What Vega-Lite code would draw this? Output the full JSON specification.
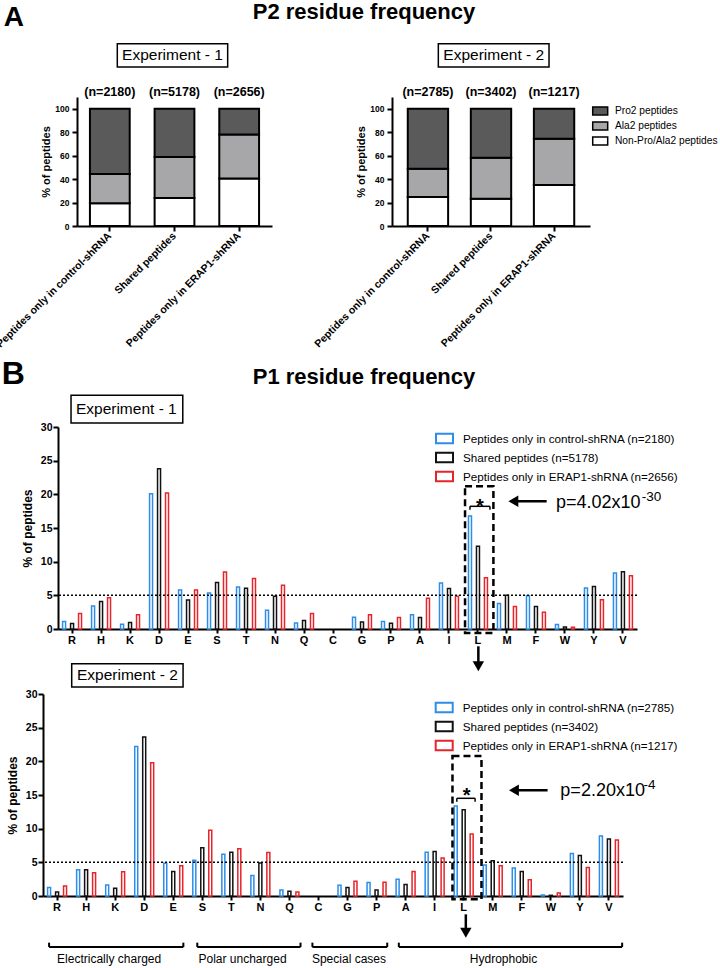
{
  "$schema": "https://vega.github.io/schema/vega-lite/v6.json",
  "autosize": {"type": "none"},
  "padding": {"left": 43, "top": 97, "right": 677, "bottom": 871},
  "spacing": 8,
  "config": {
    "font": "Liberation Sans",
    "view": {"stroke": null},
    "axis": {"domainColor": "black", "domainWidth": 2, "tickColor": "black", "tickWidth": 2, "labelColor": "black", "titleColor": "black", "labelFontWeight": "bold", "titleFontWeight": "bold", "grid": false, "labelFont": "Liberation Sans", "titleFont": "Liberation Sans", "labelOverlap": false},
    "legend": {"labelFont": "Liberation Sans", "labelColor": "black"}
  },
  "vconcat": [
    {
      "bounds": "flush",
      "spacing": 0,
      "resolve": {"scale": {"fill": "independent"}},
      "hconcat": [
        {"width": 34, "height": 1, "data": {"values": []}, "mark": "point", "encoding": {}},
        {
          "width": 195, "height": 129,
          "resolve": {"scale": {"x": "independent", "y": "independent"}},
          "layer": [
            {"layer": [
              {"data": {"values": [
                {"cond": "Peptides only in control-shRNA", "type": "Non-Pro/Ala2 peptides", "lvl": 1, "pct": 19.3},
                {"cond": "Peptides only in control-shRNA", "type": "Ala2 peptides", "lvl": 2, "pct": 25.0},
                {"cond": "Peptides only in control-shRNA", "type": "Pro2 peptides", "lvl": 3, "pct": 55.7},
                {"cond": "Shared peptides", "type": "Non-Pro/Ala2 peptides", "lvl": 1, "pct": 23.9},
                {"cond": "Shared peptides", "type": "Ala2 peptides", "lvl": 2, "pct": 34.9},
                {"cond": "Shared peptides", "type": "Pro2 peptides", "lvl": 3, "pct": 41.2},
                {"cond": "Peptides only in ERAP1-shRNA", "type": "Non-Pro/Ala2 peptides", "lvl": 1, "pct": 40.6},
                {"cond": "Peptides only in ERAP1-shRNA", "type": "Ala2 peptides", "lvl": 2, "pct": 37.5},
                {"cond": "Peptides only in ERAP1-shRNA", "type": "Pro2 peptides", "lvl": 3, "pct": 21.9}
              ]},
               "mark": {"type": "bar", "stroke": "black", "strokeWidth": 2},
               "encoding": {
                 "x": {"field": "cond", "type": "nominal", "scale": {"domain": ["Peptides only in control-shRNA", "Shared peptides", "Peptides only in ERAP1-shRNA"], "paddingInner": 0.385, "paddingOuter": 0.2},
                       "axis": {"title": null, "labelAngle": -45, "labelAlign": "right", "labelBaseline": "middle", "labelFontSize": 10.5, "tickSize": 5, "labelPadding": 3, "labelLimit": 300, "labelOverlap": false}},
                 "y": {"field": "pct", "type": "quantitative", "stack": "zero", "scale": {"domain": [0, 110], "nice": false},
                       "axis": {"title": "% of peptides", "values": [0, 20, 40, 60, 80, 100], "labelOverlap": false, "labelSeparation": -100, "labelFontSize": 8.5, "titleFontSize": 11, "tickSize": 5, "labelPadding": 3, "titlePadding": 3}},
                 "fill": {"field": "type", "type": "nominal", "scale": {"domain": ["Pro2 peptides", "Ala2 peptides", "Non-Pro/Ala2 peptides"], "range": ["#5a5a5a", "#a7a7aa", "#ffffff"]}, "legend": null},
                 "order": {"field": "lvl", "type": "quantitative"}
               }},
              {"data": {"values": [
                {"cond": "Peptides only in control-shRNA", "n": "(n=2180)"},
                {"cond": "Shared peptides", "n": "(n=5178)"},
                {"cond": "Peptides only in ERAP1-shRNA", "n": "(n=2656)"}
              ]},
               "mark": {"type": "text", "fontSize": 12.5, "fontWeight": "bold", "baseline": "alphabetic", "color": "black"},
               "encoding": {
                 "x": {"field": "cond", "type": "nominal"},
                 "y": {"datum": 110.9, "type": "quantitative", "scale": {"domain": [0, 110], "nice": false},
                       "axis": {"title": "% of peptides", "values": [0, 20, 40, 60, 80, 100], "labelOverlap": false, "labelSeparation": -100, "labelFontSize": 8.5, "titleFontSize": 11, "tickSize": 5, "labelPadding": 3, "titlePadding": 3}},
                 "text": {"field": "n"}
               }}
            ]},
            {"data": {"values": [{}]}, "layer": [
              {"mark": {"type": "text", "text": "A", "fontSize": 28, "fontWeight": "bold", "align": "center", "baseline": "alphabetic", "color": "black"},
               "encoding": {"x": {"datum": -0.972, "type": "quantitative", "scale": {"domain": [0, 3]}, "axis": null}, "y": {"datum": 170.5, "type": "quantitative", "scale": {"domain": [0, 110], "nice": false}, "axis": null}}},
              {"mark": {"type": "text", "text": "P2 residue frequency", "fontSize": 22, "fontWeight": "bold", "align": "center", "baseline": "alphabetic", "color": "black"},
               "encoding": {"x": {"datum": 4.415, "type": "quantitative", "scale": {"domain": [0, 3]}, "axis": null}, "y": {"datum": 176.3, "type": "quantitative", "scale": {"domain": [0, 110], "nice": false}, "axis": null}}},
              {"mark": {"type": "rect", "filled": false, "stroke": "black", "strokeWidth": 1.5},
               "encoding": {"x": {"datum": 0.62, "type": "quantitative", "scale": {"domain": [0, 3]}, "axis": null}, "x2": {"datum": 2.318}, "y": {"datum": 135.6, "type": "quantitative", "scale": {"domain": [0, 110], "nice": false}, "axis": null}, "y2": {"datum": 155.5}}},
              {"mark": {"type": "text", "text": "Experiment - 1", "fontSize": 15.5, "align": "center", "baseline": "middle", "color": "black"},
               "encoding": {"x": {"datum": 1.469, "type": "quantitative", "scale": {"domain": [0, 3]}, "axis": null}, "y": {"datum": 145.6, "type": "quantitative", "scale": {"domain": [0, 110], "nice": false}, "axis": null}}}
            ]}
          ]
        },
        {"width": 120, "height": 1, "data": {"values": []}, "mark": "point", "encoding": {}},
        {
          "width": 198, "height": 129,
          "resolve": {"scale": {"x": "independent", "y": "independent"}},
          "layer": [
            {"layer": [
              {"data": {"values": [
                {"cond": "Peptides only in control-shRNA", "type": "Non-Pro/Ala2 peptides", "lvl": 1, "pct": 24.7},
                {"cond": "Peptides only in control-shRNA", "type": "Ala2 peptides", "lvl": 2, "pct": 24.2},
                {"cond": "Peptides only in control-shRNA", "type": "Pro2 peptides", "lvl": 3, "pct": 51.1},
                {"cond": "Shared peptides", "type": "Non-Pro/Ala2 peptides", "lvl": 1, "pct": 23.3},
                {"cond": "Shared peptides", "type": "Ala2 peptides", "lvl": 2, "pct": 34.9},
                {"cond": "Shared peptides", "type": "Pro2 peptides", "lvl": 3, "pct": 41.8},
                {"cond": "Peptides only in ERAP1-shRNA", "type": "Non-Pro/Ala2 peptides", "lvl": 1, "pct": 35.0},
                {"cond": "Peptides only in ERAP1-shRNA", "type": "Ala2 peptides", "lvl": 2, "pct": 39.4},
                {"cond": "Peptides only in ERAP1-shRNA", "type": "Pro2 peptides", "lvl": 3, "pct": 25.6}
              ]},
               "mark": {"type": "bar", "stroke": "black", "strokeWidth": 2},
               "encoding": {
                 "x": {"field": "cond", "type": "nominal", "scale": {"domain": ["Peptides only in control-shRNA", "Shared peptides", "Peptides only in ERAP1-shRNA"], "paddingInner": 0.36, "paddingOuter": 0.25},
                       "axis": {"title": null, "labelAngle": -45, "labelAlign": "right", "labelBaseline": "middle", "labelFontSize": 10.5, "tickSize": 5, "labelPadding": 3, "labelLimit": 300, "labelOverlap": false}},
                 "y": {"field": "pct", "type": "quantitative", "stack": "zero", "scale": {"domain": [0, 110], "nice": false},
                       "axis": {"title": "% of peptides", "values": [0, 20, 40, 60, 80, 100], "labelOverlap": false, "labelSeparation": -100, "labelFontSize": 8.5, "titleFontSize": 11, "tickSize": 5, "labelPadding": 3, "titlePadding": 3}},
                 "fill": {"field": "type", "type": "nominal", "scale": {"domain": ["Pro2 peptides", "Ala2 peptides", "Non-Pro/Ala2 peptides"], "range": ["#5a5a5a", "#a7a7aa", "#ffffff"]},
                          "legend": {"orient": "none", "legendX": 203.1, "legendY": 8.8, "title": null, "symbolType": "M-1.83,-0.98H1.83V0.98H-1.83Z", "symbolSize": 67, "symbolStrokeColor": "black", "symbolStrokeWidth": 1.5, "labelFontSize": 10.2, "labelOffset": 9.7, "rowPadding": 0, "padding": 0, "labelLimit": 300}},
                 "order": {"field": "lvl", "type": "quantitative"}
               }},
              {"data": {"values": [
                {"cond": "Peptides only in control-shRNA", "n": "(n=2785)"},
                {"cond": "Shared peptides", "n": "(n=3402)"},
                {"cond": "Peptides only in ERAP1-shRNA", "n": "(n=1217)"}
              ]},
               "mark": {"type": "text", "fontSize": 12.5, "fontWeight": "bold", "baseline": "alphabetic", "color": "black"},
               "encoding": {
                 "x": {"field": "cond", "type": "nominal"},
                 "y": {"datum": 110.9, "type": "quantitative", "scale": {"domain": [0, 110], "nice": false},
                       "axis": {"title": "% of peptides", "values": [0, 20, 40, 60, 80, 100], "labelOverlap": false, "labelSeparation": -100, "labelFontSize": 8.5, "titleFontSize": 11, "tickSize": 5, "labelPadding": 3, "titlePadding": 3}},
                 "text": {"field": "n"}
               }}
            ]},
            {"data": {"values": [{}]}, "layer": [
              {"mark": {"type": "rect", "filled": false, "stroke": "black", "strokeWidth": 1.5},
               "encoding": {"x": {"datum": 0.702, "type": "quantitative", "scale": {"domain": [0, 3]}, "axis": null}, "x2": {"datum": 2.379}, "y": {"datum": 135.6, "type": "quantitative", "scale": {"domain": [0, 110], "nice": false}, "axis": null}, "y2": {"datum": 155.5}}},
              {"mark": {"type": "text", "text": "Experiment - 2", "fontSize": 15.5, "align": "center", "baseline": "middle", "color": "black"},
               "encoding": {"x": {"datum": 1.541, "type": "quantitative", "scale": {"domain": [0, 3]}, "axis": null}, "y": {"datum": 145.6, "type": "quantitative", "scale": {"domain": [0, 110], "nice": false}, "axis": null}}}
            ]}
          ]
        }
      ]
    },
    {
      "spacing": -10,
      "resolve": {"scale": {"stroke": "independent"}},
      "vconcat": [
        {
          "bounds": "flush",
          "spacing": 0,
          "hconcat": [
            {"width": 15, "height": 1, "data": {"values": []}, "mark": "point", "encoding": {}},
            {
              "width": 579, "height": 202,
              "resolve": {"scale": {"x": "independent", "y": "independent"}},
              "layer": [
                {"layer": [
                  {"data": {"values": [
                    {"r": "R", "s": "ctrl", "v": 1.1}, {"r": "R", "s": "shared", "v": 0.8}, {"r": "R", "s": "erap", "v": 2.3},
                    {"r": "H", "s": "ctrl", "v": 3.4}, {"r": "H", "s": "shared", "v": 4.1}, {"r": "H", "s": "erap", "v": 4.65},
                    {"r": "K", "s": "ctrl", "v": 0.7}, {"r": "K", "s": "shared", "v": 0.95}, {"r": "K", "s": "erap", "v": 2.1},
                    {"r": "D", "s": "ctrl", "v": 20.1}, {"r": "D", "s": "shared", "v": 23.8}, {"r": "D", "s": "erap", "v": 20.2},
                    {"r": "E", "s": "ctrl", "v": 5.8}, {"r": "E", "s": "shared", "v": 4.3}, {"r": "E", "s": "erap", "v": 5.8},
                    {"r": "S", "s": "ctrl", "v": 5.35}, {"r": "S", "s": "shared", "v": 6.9}, {"r": "S", "s": "erap", "v": 8.45},
                    {"r": "T", "s": "ctrl", "v": 6.25}, {"r": "T", "s": "shared", "v": 6.05}, {"r": "T", "s": "erap", "v": 7.5},
                    {"r": "N", "s": "ctrl", "v": 2.8}, {"r": "N", "s": "shared", "v": 4.85}, {"r": "N", "s": "erap", "v": 6.5},
                    {"r": "Q", "s": "ctrl", "v": 0.9}, {"r": "Q", "s": "shared", "v": 1.25}, {"r": "Q", "s": "erap", "v": 2.3},
                    {"r": "G", "s": "ctrl", "v": 1.75}, {"r": "G", "s": "shared", "v": 1.05}, {"r": "G", "s": "erap", "v": 2.1},
                    {"r": "P", "s": "ctrl", "v": 1.1}, {"r": "P", "s": "shared", "v": 0.85}, {"r": "P", "s": "erap", "v": 1.7},
                    {"r": "A", "s": "ctrl", "v": 2.1}, {"r": "A", "s": "shared", "v": 1.7}, {"r": "A", "s": "erap", "v": 4.55},
                    {"r": "I", "s": "ctrl", "v": 6.85}, {"r": "I", "s": "shared", "v": 6.0}, {"r": "I", "s": "erap", "v": 4.85},
                    {"r": "L", "s": "ctrl", "v": 16.8}, {"r": "L", "s": "shared", "v": 12.3}, {"r": "L", "s": "erap", "v": 7.6},
                    {"r": "M", "s": "ctrl", "v": 3.8}, {"r": "M", "s": "shared", "v": 5.0}, {"r": "M", "s": "erap", "v": 3.35},
                    {"r": "F", "s": "ctrl", "v": 4.95}, {"r": "F", "s": "shared", "v": 3.35}, {"r": "F", "s": "erap", "v": 2.5},
                    {"r": "W", "s": "ctrl", "v": 0.65}, {"r": "W", "s": "shared", "v": 0.3}, {"r": "W", "s": "erap", "v": 0.25},
                    {"r": "Y", "s": "ctrl", "v": 6.1}, {"r": "Y", "s": "shared", "v": 6.3}, {"r": "Y", "s": "erap", "v": 4.35},
                    {"r": "V", "s": "ctrl", "v": 8.3}, {"r": "V", "s": "shared", "v": 8.5}, {"r": "V", "s": "erap", "v": 7.9}
                  ]},
                   "mark": {"type": "bar", "fill": "white", "strokeWidth": 1.5},
                   "encoding": {
                     "x": {"field": "r", "type": "nominal", "scale": {"domain": ["R","H","K","D","E","S","T","N","Q","C","G","P","A","I","L","M","F","W","Y","V"], "paddingInner": 0.17, "paddingOuter": 0.07},
                           "axis": {"title": null, "labelAngle": 0, "labelFontSize": 11, "tickSize": 4, "labelPadding": 1.5, "labelOverlap": false}},
                     "xOffset": {"field": "s", "type": "nominal", "scale": {"domain": ["ctrl", "shared", "erap"], "paddingInner": 0.625, "paddingOuter": 0.32}},
                     "y": {"field": "v", "type": "quantitative", "scale": {"domain": [0, 30], "nice": false},
                           "axis": {"title": "% of peptides", "values": [0, 5, 10, 15, 20, 25, 30], "labelOverlap": false, "labelSeparation": -100, "labelFontSize": 10.5, "titleFontSize": 12, "tickSize": 5, "labelPadding": 1, "titlePadding": 6}},
                     "stroke": {"field": "s", "type": "nominal", "scale": {"domain": ["ctrl", "shared", "erap"], "range": ["#2d8de8", "#111111", "#e5242b"]},
                                "legend": {"orient": "none", "legendX": 394, "legendY": 4, "title": null, "symbolType": "M-1.308,-0.738H1.308V0.738H-1.308Z", "symbolSize": 169, "symbolStrokeWidth": 2, "symbolFillColor": "white", "labelFontSize": 11.7, "labelOffset": 11, "rowPadding": 0, "padding": 0, "labelLimit": 400,
                                           "labelExpr": "datum.label == 'ctrl' ? 'Peptides only in control-shRNA (n=2180)' : datum.label == 'shared' ? 'Shared peptides (n=5178)' : 'Peptides only in ERAP1-shRNA (n=2656)'"}}
                   }},
                  {"data": {"values": [{}]}, "mark": {"type": "rule", "strokeDash": [2, 2], "strokeWidth": 1.5, "color": "black"},
                   "encoding": {"y": {"datum": 5, "type": "quantitative", "scale": {"domain": [0, 30], "nice": false},
                                      "axis": {"title": "% of peptides", "values": [0, 5, 10, 15, 20, 25, 30], "labelOverlap": false, "labelSeparation": -100, "labelFontSize": 10.5, "titleFontSize": 12, "tickSize": 5, "labelPadding": 1, "titlePadding": 6}}}}
                ]},
                {"data": {"values": [{}]}, "layer": [
                  {"mark": {"type": "text", "text": "B", "fontSize": 32, "fontWeight": "bold", "align": "center", "baseline": "alphabetic", "color": "black"},
                   "encoding": {"x": {"datum": -1.545, "type": "quantitative", "scale": {"domain": [0, 20]}, "axis": null}, "y": {"datum": 36.34, "type": "quantitative", "scale": {"domain": [0, 30], "nice": false}, "axis": null}}},
                  {"mark": {"type": "text", "text": "P1 residue frequency", "fontSize": 22, "fontWeight": "bold", "align": "center", "baseline": "alphabetic", "color": "black"},
                   "encoding": {"x": {"datum": 10.57, "type": "quantitative", "scale": {"domain": [0, 20]}, "axis": null}, "y": {"datum": 36.34, "type": "quantitative", "scale": {"domain": [0, 30], "nice": false}, "axis": null}}},
                  {"mark": {"type": "rect", "filled": false, "stroke": "black", "strokeWidth": 1.5},
                   "encoding": {"x": {"datum": 0.45, "type": "quantitative", "scale": {"domain": [0, 20]}, "axis": null}, "x2": {"datum": 4.31}, "y": {"datum": 30.6, "type": "quantitative", "scale": {"domain": [0, 30], "nice": false}, "axis": null}, "y2": {"datum": 34.71}}},
                  {"mark": {"type": "text", "text": "Experiment - 1", "fontSize": 15.5, "align": "center", "baseline": "middle", "color": "black"},
                   "encoding": {"x": {"datum": 2.36, "type": "quantitative", "scale": {"domain": [0, 20]}, "axis": null}, "y": {"datum": 32.66, "type": "quantitative", "scale": {"domain": [0, 30], "nice": false}, "axis": null}}},
                  {"mark": {"type": "rect", "filled": false, "stroke": "black", "strokeWidth": 2.5, "strokeDash": [7, 4]},
                   "encoding": {"x": {"datum": 14.06, "type": "quantitative", "scale": {"domain": [0, 20]}, "axis": null}, "x2": {"datum": 15.04}, "y": {"datum": -0.59, "type": "quantitative", "scale": {"domain": [0, 30], "nice": false}, "axis": null}, "y2": {"datum": 21.19}}},
                  {"mark": {"type": "text", "text": "*", "fontSize": 20, "fontWeight": "bold", "align": "center", "baseline": "alphabetic", "color": "black"},
                   "encoding": {"x": {"datum": 14.57, "type": "quantitative", "scale": {"domain": [0, 20]}, "axis": null}, "y": {"datum": 17.26, "type": "quantitative", "scale": {"domain": [0, 30], "nice": false}, "axis": null}}},
                  {"mark": {"type": "rule", "strokeWidth": 1.5, "color": "black"},
                   "encoding": {"x": {"datum": 14.23, "type": "quantitative", "scale": {"domain": [0, 20]}, "axis": null}, "x2": {"datum": 14.92}, "y": {"datum": 18.22, "type": "quantitative", "scale": {"domain": [0, 30], "nice": false}, "axis": null}}},
                  {"mark": {"type": "rule", "strokeWidth": 1.5, "color": "black"},
                   "encoding": {"x": {"datum": 14.23, "type": "quantitative", "scale": {"domain": [0, 20]}, "axis": null}, "y": {"datum": 18.22, "type": "quantitative", "scale": {"domain": [0, 30], "nice": false}, "axis": null}, "y2": {"datum": 17.7}}},
                  {"mark": {"type": "rule", "strokeWidth": 1.5, "color": "black"},
                   "encoding": {"x": {"datum": 14.92, "type": "quantitative", "scale": {"domain": [0, 20]}, "axis": null}, "y": {"datum": 18.22, "type": "quantitative", "scale": {"domain": [0, 30], "nice": false}, "axis": null}, "y2": {"datum": 17.7}}},
                  {"mark": {"type": "rule", "strokeWidth": 2.5, "color": "black"},
                   "encoding": {"x": {"datum": 15.73, "type": "quantitative", "scale": {"domain": [0, 20]}, "axis": null}, "x2": {"datum": 16.88}, "y": {"datum": 18.97, "type": "quantitative", "scale": {"domain": [0, 30], "nice": false}, "axis": null}}},
                  {"mark": {"type": "point", "shape": "triangle-left", "filled": true, "color": "black", "size": 130, "opacity": 1},
                   "encoding": {"x": {"datum": 15.73, "type": "quantitative", "scale": {"domain": [0, 20]}, "axis": null}, "y": {"datum": 18.97, "type": "quantitative", "scale": {"domain": [0, 30], "nice": false}, "axis": null}}},
                  {"mark": {"type": "text", "text": "p=4.02x10", "fontSize": 18, "align": "left", "baseline": "alphabetic", "color": "black"},
                   "encoding": {"x": {"datum": 17.2, "type": "quantitative", "scale": {"domain": [0, 20]}, "axis": null}, "y": {"datum": 17.97, "type": "quantitative", "scale": {"domain": [0, 30], "nice": false}, "axis": null}}},
                  {"mark": {"type": "text", "text": "-30", "fontSize": 13.5, "align": "left", "baseline": "alphabetic", "color": "black"},
                   "encoding": {"x": {"datum": 20.16, "type": "quantitative", "scale": {"domain": [0, 20]}, "axis": null}, "y": {"datum": 18.97, "type": "quantitative", "scale": {"domain": [0, 30], "nice": false}, "axis": null}}},
                  {"mark": {"type": "rule", "strokeWidth": 2.5, "color": "black"},
                   "encoding": {"x": {"datum": 14.52, "type": "quantitative", "scale": {"domain": [0, 20]}, "axis": null}, "y": {"datum": -2.57, "type": "quantitative", "scale": {"domain": [0, 30], "nice": false}, "axis": null}, "y2": {"datum": -5.54}}},
                  {"mark": {"type": "point", "shape": "triangle-down", "filled": true, "color": "black", "size": 130, "opacity": 1},
                   "encoding": {"x": {"datum": 14.52, "type": "quantitative", "scale": {"domain": [0, 20]}, "axis": null}, "y": {"datum": -5.54, "type": "quantitative", "scale": {"domain": [0, 30], "nice": false}, "axis": null}}}
                ]}
              ]
            }
          ]
        },
        {
          "width": 580, "height": 202,
          "resolve": {"scale": {"x": "independent", "y": "independent"}},
          "layer": [
            {"layer": [
              {"data": {"values": [
                {"r": "R", "s": "ctrl", "v": 1.25}, {"r": "R", "s": "shared", "v": 0.6}, {"r": "R", "s": "erap", "v": 1.5},
                {"r": "H", "s": "ctrl", "v": 3.9}, {"r": "H", "s": "shared", "v": 3.9}, {"r": "H", "s": "erap", "v": 3.45},
                {"r": "K", "s": "ctrl", "v": 1.65}, {"r": "K", "s": "shared", "v": 1.15}, {"r": "K", "s": "erap", "v": 3.6},
                {"r": "D", "s": "ctrl", "v": 22.2}, {"r": "D", "s": "shared", "v": 23.6}, {"r": "D", "s": "erap", "v": 19.8},
                {"r": "E", "s": "ctrl", "v": 4.85}, {"r": "E", "s": "shared", "v": 3.65}, {"r": "E", "s": "erap", "v": 4.5},
                {"r": "S", "s": "ctrl", "v": 5.3}, {"r": "S", "s": "shared", "v": 7.15}, {"r": "S", "s": "erap", "v": 9.75},
                {"r": "T", "s": "ctrl", "v": 6.2}, {"r": "T", "s": "shared", "v": 6.5}, {"r": "T", "s": "erap", "v": 7.0},
                {"r": "N", "s": "ctrl", "v": 3.05}, {"r": "N", "s": "shared", "v": 4.9}, {"r": "N", "s": "erap", "v": 6.45},
                {"r": "Q", "s": "ctrl", "v": 0.9}, {"r": "Q", "s": "shared", "v": 0.7}, {"r": "Q", "s": "erap", "v": 0.6},
                {"r": "G", "s": "ctrl", "v": 1.6}, {"r": "G", "s": "shared", "v": 1.25}, {"r": "G", "s": "erap", "v": 2.2},
                {"r": "P", "s": "ctrl", "v": 2.0}, {"r": "P", "s": "shared", "v": 0.9}, {"r": "P", "s": "erap", "v": 2.05},
                {"r": "A", "s": "ctrl", "v": 2.5}, {"r": "A", "s": "shared", "v": 1.7}, {"r": "A", "s": "erap", "v": 3.65},
                {"r": "I", "s": "ctrl", "v": 6.5}, {"r": "I", "s": "shared", "v": 6.6}, {"r": "I", "s": "erap", "v": 5.65},
                {"r": "L", "s": "ctrl", "v": 13.35}, {"r": "L", "s": "shared", "v": 12.8}, {"r": "L", "s": "erap", "v": 9.2},
                {"r": "M", "s": "ctrl", "v": 4.6}, {"r": "M", "s": "shared", "v": 5.25}, {"r": "M", "s": "erap", "v": 4.5},
                {"r": "F", "s": "ctrl", "v": 4.15}, {"r": "F", "s": "shared", "v": 3.65}, {"r": "F", "s": "erap", "v": 2.4},
                {"r": "W", "s": "ctrl", "v": 0.15}, {"r": "W", "s": "shared", "v": 0.1}, {"r": "W", "s": "erap", "v": 0.45},
                {"r": "Y", "s": "ctrl", "v": 6.3}, {"r": "Y", "s": "shared", "v": 6.0}, {"r": "Y", "s": "erap", "v": 4.25},
                {"r": "V", "s": "ctrl", "v": 8.9}, {"r": "V", "s": "shared", "v": 8.45}, {"r": "V", "s": "erap", "v": 8.3}
              ]},
               "mark": {"type": "bar", "fill": "white", "strokeWidth": 1.5},
               "encoding": {
                 "x": {"field": "r", "type": "nominal", "scale": {"domain": ["R","H","K","D","E","S","T","N","Q","C","G","P","A","I","L","M","F","W","Y","V"], "paddingInner": 0.17, "paddingOuter": 0.07},
                       "axis": {"title": null, "labelAngle": 0, "labelFontSize": 11, "tickSize": 4, "labelPadding": 1.5, "labelOverlap": false}},
                 "xOffset": {"field": "s", "type": "nominal", "scale": {"domain": ["ctrl", "shared", "erap"], "paddingInner": 0.625, "paddingOuter": 0.32}},
                 "y": {"field": "v", "type": "quantitative", "scale": {"domain": [0, 30], "nice": false},
                       "axis": {"title": "% of peptides", "values": [0, 5, 10, 15, 20, 25, 30], "labelOverlap": false, "labelSeparation": -100, "labelFontSize": 10.5, "titleFontSize": 12, "tickSize": 5, "labelPadding": 1, "titlePadding": 6}},
                 "stroke": {"field": "s", "type": "nominal", "scale": {"domain": ["ctrl", "shared", "erap"], "range": ["#2d8de8", "#111111", "#e5242b"]},
                            "legend": {"orient": "none", "legendX": 393.7, "legendY": 6, "title": null, "symbolType": "M-1.308,-0.738H1.308V0.738H-1.308Z", "symbolSize": 169, "symbolStrokeWidth": 2, "symbolFillColor": "white", "labelFontSize": 11.7, "labelOffset": 11, "rowPadding": 0, "padding": 0, "labelLimit": 400,
                                       "labelExpr": "datum.label == 'ctrl' ? 'Peptides only in control-shRNA (n=2785)' : datum.label == 'shared' ? 'Shared peptides (n=3402)' : 'Peptides only in ERAP1-shRNA (n=1217)'"}}
               }},
              {"data": {"values": [{}]}, "mark": {"type": "rule", "strokeDash": [2, 2], "strokeWidth": 1.5, "color": "black"},
               "encoding": {"y": {"datum": 5, "type": "quantitative", "scale": {"domain": [0, 30], "nice": false},
                                  "axis": {"title": "% of peptides", "values": [0, 5, 10, 15, 20, 25, 30], "labelOverlap": false, "labelSeparation": -100, "labelFontSize": 10.5, "titleFontSize": 12, "tickSize": 5, "labelPadding": 1, "titlePadding": 6}}}}
            ]},
            {"data": {"values": [{}]}, "layer": [
              {"mark": {"type": "rect", "filled": false, "stroke": "black", "strokeWidth": 1.5},
               "encoding": {"x": {"datum": 0.99, "type": "quantitative", "scale": {"domain": [0, 20]}, "axis": null}, "x2": {"datum": 4.83}, "y": {"datum": 31.04, "type": "quantitative", "scale": {"domain": [0, 30], "nice": false}, "axis": null}, "y2": {"datum": 34.5}}},
              {"mark": {"type": "text", "text": "Experiment - 2", "fontSize": 15.5, "align": "center", "baseline": "middle", "color": "black"},
               "encoding": {"x": {"datum": 2.91, "type": "quantitative", "scale": {"domain": [0, 20]}, "axis": null}, "y": {"datum": 32.78, "type": "quantitative", "scale": {"domain": [0, 30], "nice": false}, "axis": null}}},
              {"mark": {"type": "rect", "filled": false, "stroke": "black", "strokeWidth": 2.5, "strokeDash": [7, 4]},
               "encoding": {"x": {"datum": 14.12, "type": "quantitative", "scale": {"domain": [0, 20]}, "axis": null}, "x2": {"datum": 15.12}, "y": {"datum": -0.49, "type": "quantitative", "scale": {"domain": [0, 30], "nice": false}, "axis": null}, "y2": {"datum": 20.79}}},
              {"mark": {"type": "text", "text": "*", "fontSize": 20, "fontWeight": "bold", "align": "center", "baseline": "alphabetic", "color": "black"},
               "encoding": {"x": {"datum": 14.61, "type": "quantitative", "scale": {"domain": [0, 20]}, "axis": null}, "y": {"datum": 13.89, "type": "quantitative", "scale": {"domain": [0, 30], "nice": false}, "axis": null}}},
              {"mark": {"type": "rule", "strokeWidth": 1.5, "color": "black"},
               "encoding": {"x": {"datum": 14.27, "type": "quantitative", "scale": {"domain": [0, 20]}, "axis": null}, "x2": {"datum": 14.9}, "y": {"datum": 14.51, "type": "quantitative", "scale": {"domain": [0, 30], "nice": false}, "axis": null}}},
              {"mark": {"type": "rule", "strokeWidth": 1.5, "color": "black"},
               "encoding": {"x": {"datum": 14.27, "type": "quantitative", "scale": {"domain": [0, 20]}, "axis": null}, "y": {"datum": 14.51, "type": "quantitative", "scale": {"domain": [0, 30], "nice": false}, "axis": null}, "y2": {"datum": 14.0}}},
              {"mark": {"type": "rule", "strokeWidth": 1.5, "color": "black"},
               "encoding": {"x": {"datum": 14.9, "type": "quantitative", "scale": {"domain": [0, 20]}, "axis": null}, "y": {"datum": 14.51, "type": "quantitative", "scale": {"domain": [0, 30], "nice": false}, "axis": null}, "y2": {"datum": 14.0}}},
              {"mark": {"type": "rule", "strokeWidth": 2.5, "color": "black"},
               "encoding": {"x": {"datum": 16.24, "type": "quantitative", "scale": {"domain": [0, 20]}, "axis": null}, "x2": {"datum": 17.4}, "y": {"datum": 15.7, "type": "quantitative", "scale": {"domain": [0, 30], "nice": false}, "axis": null}}},
              {"mark": {"type": "point", "shape": "triangle-left", "filled": true, "color": "black", "size": 130, "opacity": 1},
               "encoding": {"x": {"datum": 16.24, "type": "quantitative", "scale": {"domain": [0, 20]}, "axis": null}, "y": {"datum": 15.7, "type": "quantitative", "scale": {"domain": [0, 30], "nice": false}, "axis": null}}},
              {"mark": {"type": "text", "text": "p=2.20x10", "fontSize": 18, "align": "left", "baseline": "alphabetic", "color": "black"},
               "encoding": {"x": {"datum": 17.84, "type": "quantitative", "scale": {"domain": [0, 20]}, "axis": null}, "y": {"datum": 14.85, "type": "quantitative", "scale": {"domain": [0, 30], "nice": false}, "axis": null}}},
              {"mark": {"type": "text", "text": "-4", "fontSize": 13.5, "align": "left", "baseline": "alphabetic", "color": "black"},
               "encoding": {"x": {"datum": 20.71, "type": "quantitative", "scale": {"domain": [0, 20]}, "axis": null}, "y": {"datum": 15.85, "type": "quantitative", "scale": {"domain": [0, 30], "nice": false}, "axis": null}}},
              {"mark": {"type": "rule", "strokeWidth": 2.5, "color": "black"},
               "encoding": {"x": {"datum": 14.58, "type": "quantitative", "scale": {"domain": [0, 20]}, "axis": null}, "y": {"datum": -2.72, "type": "quantitative", "scale": {"domain": [0, 30], "nice": false}, "axis": null}, "y2": {"datum": -5.45}}},
              {"mark": {"type": "point", "shape": "triangle-down", "filled": true, "color": "black", "size": 130, "opacity": 1},
               "encoding": {"x": {"datum": 14.58, "type": "quantitative", "scale": {"domain": [0, 20]}, "axis": null}, "y": {"datum": -5.45, "type": "quantitative", "scale": {"domain": [0, 30], "nice": false}, "axis": null}}},
              {"mark": {"type": "rule", "strokeWidth": 2, "color": "black"},
               "encoding": {"x": {"datum": 0.21, "type": "quantitative", "scale": {"domain": [0, 20]}, "axis": null}, "x2": {"datum": 4.84}, "y": {"datum": -7.57, "type": "quantitative", "scale": {"domain": [0, 30], "nice": false}, "axis": null}}},
              {"mark": {"type": "rule", "strokeWidth": 2, "color": "black"},
               "encoding": {"x": {"datum": 0.21, "type": "quantitative", "scale": {"domain": [0, 20]}, "axis": null}, "y": {"datum": -7.57, "type": "quantitative", "scale": {"domain": [0, 30], "nice": false}, "axis": null}, "y2": {"datum": -6.93}}},
              {"mark": {"type": "rule", "strokeWidth": 2, "color": "black"},
               "encoding": {"x": {"datum": 4.84, "type": "quantitative", "scale": {"domain": [0, 20]}, "axis": null}, "y": {"datum": -7.57, "type": "quantitative", "scale": {"domain": [0, 30], "nice": false}, "axis": null}, "y2": {"datum": -6.93}}},
              {"mark": {"type": "rule", "strokeWidth": 2, "color": "black"},
               "encoding": {"x": {"datum": 5.32, "type": "quantitative", "scale": {"domain": [0, 20]}, "axis": null}, "x2": {"datum": 8.88}, "y": {"datum": -7.57, "type": "quantitative", "scale": {"domain": [0, 30], "nice": false}, "axis": null}}},
              {"mark": {"type": "rule", "strokeWidth": 2, "color": "black"},
               "encoding": {"x": {"datum": 5.32, "type": "quantitative", "scale": {"domain": [0, 20]}, "axis": null}, "y": {"datum": -7.57, "type": "quantitative", "scale": {"domain": [0, 30], "nice": false}, "axis": null}, "y2": {"datum": -6.93}}},
              {"mark": {"type": "rule", "strokeWidth": 2, "color": "black"},
               "encoding": {"x": {"datum": 8.88, "type": "quantitative", "scale": {"domain": [0, 20]}, "axis": null}, "y": {"datum": -7.57, "type": "quantitative", "scale": {"domain": [0, 30], "nice": false}, "axis": null}, "y2": {"datum": -6.93}}},
              {"mark": {"type": "rule", "strokeWidth": 2, "color": "black"},
               "encoding": {"x": {"datum": 9.29, "type": "quantitative", "scale": {"domain": [0, 20]}, "axis": null}, "x2": {"datum": 11.87}, "y": {"datum": -7.57, "type": "quantitative", "scale": {"domain": [0, 30], "nice": false}, "axis": null}}},
              {"mark": {"type": "rule", "strokeWidth": 2, "color": "black"},
               "encoding": {"x": {"datum": 9.29, "type": "quantitative", "scale": {"domain": [0, 20]}, "axis": null}, "y": {"datum": -7.57, "type": "quantitative", "scale": {"domain": [0, 30], "nice": false}, "axis": null}, "y2": {"datum": -6.93}}},
              {"mark": {"type": "rule", "strokeWidth": 2, "color": "black"},
               "encoding": {"x": {"datum": 11.87, "type": "quantitative", "scale": {"domain": [0, 20]}, "axis": null}, "y": {"datum": -7.57, "type": "quantitative", "scale": {"domain": [0, 30], "nice": false}, "axis": null}, "y2": {"datum": -6.93}}},
              {"mark": {"type": "rule", "strokeWidth": 2, "color": "black"},
               "encoding": {"x": {"datum": 12.27, "type": "quantitative", "scale": {"domain": [0, 20]}, "axis": null}, "x2": {"datum": 19.97}, "y": {"datum": -7.57, "type": "quantitative", "scale": {"domain": [0, 30], "nice": false}, "axis": null}}},
              {"mark": {"type": "rule", "strokeWidth": 2, "color": "black"},
               "encoding": {"x": {"datum": 12.27, "type": "quantitative", "scale": {"domain": [0, 20]}, "axis": null}, "y": {"datum": -7.57, "type": "quantitative", "scale": {"domain": [0, 30], "nice": false}, "axis": null}, "y2": {"datum": -6.93}}},
              {"mark": {"type": "rule", "strokeWidth": 2, "color": "black"},
               "encoding": {"x": {"datum": 19.97, "type": "quantitative", "scale": {"domain": [0, 20]}, "axis": null}, "y": {"datum": -7.57, "type": "quantitative", "scale": {"domain": [0, 30], "nice": false}, "axis": null}, "y2": {"datum": -6.93}}},
              {"mark": {"type": "text", "text": "Electrically charged", "fontSize": 12, "align": "center", "baseline": "alphabetic", "color": "black"},
               "encoding": {"x": {"datum": 2.28, "type": "quantitative", "scale": {"domain": [0, 20]}, "axis": null}, "y": {"datum": -10.0, "type": "quantitative", "scale": {"domain": [0, 30], "nice": false}, "axis": null}}},
              {"mark": {"type": "text", "text": "Polar uncharged", "fontSize": 12, "align": "center", "baseline": "alphabetic", "color": "black"},
               "encoding": {"x": {"datum": 6.88, "type": "quantitative", "scale": {"domain": [0, 20]}, "axis": null}, "y": {"datum": -10.0, "type": "quantitative", "scale": {"domain": [0, 30], "nice": false}, "axis": null}}},
              {"mark": {"type": "text", "text": "Special cases", "fontSize": 12, "align": "center", "baseline": "alphabetic", "color": "black"},
               "encoding": {"x": {"datum": 10.55, "type": "quantitative", "scale": {"domain": [0, 20]}, "axis": null}, "y": {"datum": -10.0, "type": "quantitative", "scale": {"domain": [0, 30], "nice": false}, "axis": null}}},
              {"mark": {"type": "text", "text": "Hydrophobic", "fontSize": 12, "align": "center", "baseline": "alphabetic", "color": "black"},
               "encoding": {"x": {"datum": 15.88, "type": "quantitative", "scale": {"domain": [0, 20]}, "axis": null}, "y": {"datum": -10.0, "type": "quantitative", "scale": {"domain": [0, 30], "nice": false}, "axis": null}}}
            ]}
          ]
        }
      ]
    }
  ]
}
